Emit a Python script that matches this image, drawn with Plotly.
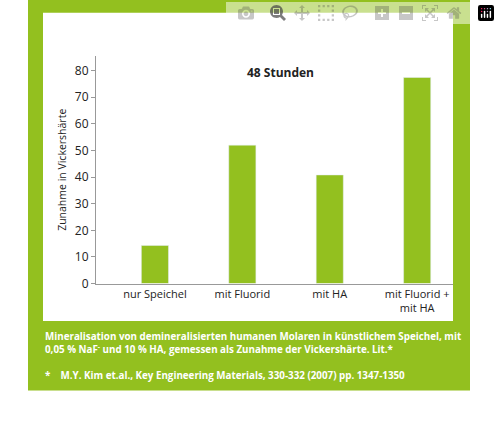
import plotly.graph_objects as go

categories = ["nur Speichel", "mit Fluorid", "mit HA", "mit Fluorid +<br>mit HA"]
values = [14.3, 52.0, 40.8, 77.4]
yticks = [0, 10, 20, 30, 40, 50, 60, 70, 80]

green = "#93c01f"
W, H = 500, 429
def px(x): return x / W
def py(y): return 1 - y / H

fig = go.Figure(go.Bar(x=list(range(len(categories))), y=values, marker_color=green, width=0.31))
fig.update_layout(
    width=W, height=H, margin=dict(l=0, r=0, t=0, b=0),
    paper_bgcolor="white", plot_bgcolor="white", showlegend=False,
    font=dict(family="Open Sans", color="#222", size=12),
    xaxis=dict(domain=[px(96), px(453)], range=[-0.674, 3.41], tickvals=list(range(4)),
               ticktext=categories, showline=True, linecolor="#999", ticks="", showgrid=False,
               zeroline=False, tickfont=dict(size=11)),
    yaxis=dict(domain=[py(289), py(57)], range=[0, 85.5], tickvals=yticks, showline=True,
               linecolor="#999", ticks="outside", ticklen=4, tickcolor="#999", showgrid=False,
               zeroline=False, tickfont=dict(size=12),
               title=dict(text="Zunahme in Vickershärte", font=dict(size=10.5), standoff=6)),
    shapes=[
        dict(type="rect", xref="paper", yref="paper", x0=px(28), x1=px(470), y0=py(398), y1=py(0),
             fillcolor=green, line_width=0, layer="below"),
        dict(type="rect", xref="paper", yref="paper", x0=px(43), x1=px(453), y0=py(327), y1=py(13),
             fillcolor="white", line_width=0, layer="below"),
    ],
    annotations=[
        dict(text="<b>48 Stunden</b>", xref="paper", yref="paper", x=px(280), y=py(63),
             showarrow=False, font=dict(size=12, color="#222")),
        dict(text="<b>Mineralisation von demineralisierten humanen Molaren in künstlichem Speichel, mit<br>0,05 % NaF<sup>-</sup> und 10 % HA, gemessen als Zunahme der Vickershärte. Lit.*</b>",
             xref="paper", yref="paper", x=px(43), y=py(334), xanchor="left", yanchor="top", align="left",
             showarrow=False, font=dict(size=9.8, color="white")),
        dict(text="<b>*    M.Y. Kim et.al., Key Engineering Materials, 330-332 (2007) pp. 1347-1350</b>",
             xref="paper", yref="paper", x=px(43), y=py(383), xanchor="left", yanchor="middle",
             showarrow=False, font=dict(size=9.8, color="white")),
    ],
)
fig.write_html("out.html", post_script="document.body.style.margin='0';document.body.style.overflow='hidden';")
